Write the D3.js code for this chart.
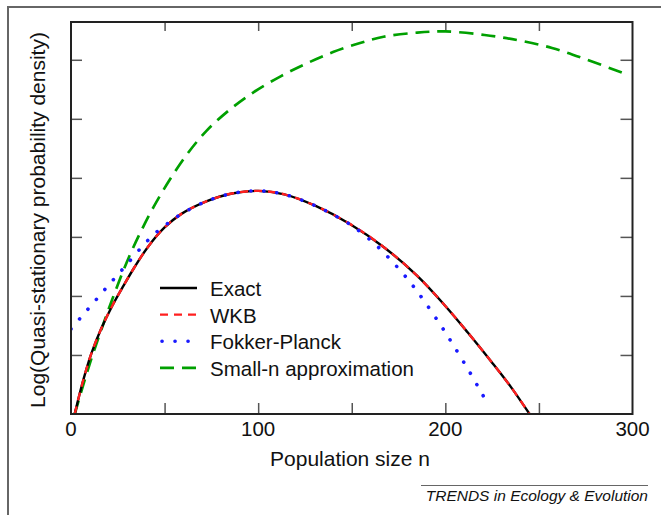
<!DOCTYPE html>
<html>
<head>
<meta charset="utf-8">
<script src="https://cdn.jsdelivr.net/npm/d3@7"></script>
<style>
  body { margin: 0; background: #fff; }
  text { font-family: "Liberation Sans", Arial, Helvetica, sans-serif; }
</style>
</head>
<body>
<script>
// Values (y in arbitrary log units, one tick = 1)
var exactN = [2, 5, 8, 11, 16, 22, 28, 34, 41, 50, 59, 72, 86, 100, 114, 131, 149, 167, 185, 200, 212, 224.5, 235, 245];
var exactY = [0, 0.39, 0.735, 1.035, 1.435, 1.83, 2.17, 2.49, 2.826, 3.16, 3.39, 3.598, 3.735, 3.78, 3.72, 3.52, 3.22, 2.83, 2.34, 1.83, 1.38, 0.89, 0.46, 0];

var fpN = [0, 5, 10, 15, 20, 25, 30, 37, 42, 47.5, 53.5, 59, 72, 86, 100, 114, 131, 145, 151, 162, 172, 181, 189, 198, 205, 213, 219.5, 223];
var fpY = [1.44, 1.625, 1.81, 1.995, 2.18, 2.36, 2.54, 2.8, 2.97, 3.13, 3.27, 3.39, 3.598, 3.735, 3.78, 3.72, 3.52, 3.29, 3.17, 2.89, 2.57, 2.24, 1.9, 1.48, 1.13, 0.71, 0.35, 0.15];

var smallN = [2, 10, 18, 25, 31, 37, 44, 53, 62, 72.5, 85, 97.5, 112, 126, 140, 154, 167, 185, 200, 221, 239, 257, 275, 297];
var smallY = [0, 0.85, 1.59, 2.19, 2.66, 3.07, 3.5, 3.98, 4.4, 4.8, 5.16, 5.45, 5.72, 5.94, 6.13, 6.28, 6.39, 6.46, 6.48, 6.42, 6.33, 6.2, 6.01, 5.75];

var xTicks = [0, 100, 200, 300];
var xMinor = [50, 100, 150, 200, 250];
var yTicks = [1, 2, 3, 4, 5, 6];

var legendNames = ["Exact", "WKB", "Fokker-Planck", "Small-n approximation"];

var svgWidth = 661;
var svgHeight = 515;
var margin = { top: 22, right: 28.5, bottom: 101, left: 71 };
var width = svgWidth - margin.left - margin.right;
var height = svgHeight - margin.top - margin.bottom;

var svg = d3.select("body")
  .append("svg")
  .attr("width", svgWidth)
  .attr("height", svgHeight);

svg.append("rect").attr("width", svgWidth).attr("height", svgHeight).attr("fill", "#fff");

// outer frame (top and left only)
svg.append("path")
  .attr("d", "M8,515 L8,7 L661,7")
  .attr("fill", "none")
  .attr("stroke", "#666")
  .attr("stroke-width", 2);

var chart = svg.append("g")
  .attr("transform", "translate(" + margin.left + "," + margin.top + ")");

var x = d3.scaleLinear().domain([0, 300]).range([0, width]);
var y = d3.scaleLinear().domain([0, 6.64]).range([height, 0]);

chart.append("clipPath").attr("id", "clip")
  .append("rect").attr("width", width).attr("height", height);

// ticks, all pointing inward
function tickStyle(g) {
  g.select(".domain").remove();
  g.selectAll(".tick line").attr("stroke", "#555").attr("stroke-width", 1.5);
  g.selectAll(".tick text").remove();
}
chart.append("g").attr("transform", "translate(0," + height + ")")
  .call(d3.axisBottom(x).tickValues(xMinor).tickSizeInner(-11).tickSizeOuter(0)).call(tickStyle);
chart.append("g")
  .call(d3.axisTop(x).tickValues(xMinor).tickSizeInner(-9).tickSizeOuter(0)).call(tickStyle);
chart.append("g")
  .call(d3.axisLeft(y).tickValues(yTicks).tickSizeInner(-11).tickSizeOuter(0)).call(tickStyle);
chart.append("g").attr("transform", "translate(" + width + ",0)")
  .call(d3.axisRight(y).tickValues(yTicks).tickSizeInner(-12).tickSizeOuter(0)).call(tickStyle);

// x tick labels
chart.append("g")
  .selectAll("text")
  .data(xTicks)
  .enter().append("text")
  .attr("x", function (d) { return x(d); })
  .attr("y", height + 22)
  .attr("text-anchor", "middle")
  .style("font-size", "20.5px")
  .attr("fill", "#111")
  .text(function (d) { return d; });

// curves
var line = d3.line()
  .x(function (d) { return x(d[0]); })
  .y(function (d) { return y(d[1]); })
  .curve(d3.curveCatmullRom.alpha(0.5));

function pairs(ns, ys) { return ns.map(function (n, i) { return [n, ys[i]]; }); }

var curves = chart.append("g").attr("clip-path", "url(#clip)");

curves.append("path")
  .attr("d", line(pairs(smallN, smallY)))
  .attr("fill", "none").attr("stroke", "#00a000").attr("stroke-width", 2.7)
  .attr("stroke-dasharray", "14,8");

curves.append("path")
  .attr("d", line(pairs(exactN, exactY)))
  .attr("fill", "none").attr("stroke", "#000").attr("stroke-width", 2.4);

curves.append("path")
  .attr("d", line(pairs(exactN, exactY)))
  .attr("fill", "none").attr("stroke", "#ff1f1f").attr("stroke-width", 2.4)
  .attr("stroke-dasharray", "8,6");

curves.append("path")
  .attr("d", line(pairs(fpN, fpY)))
  .attr("fill", "none").attr("stroke", "#1a1aff").attr("stroke-width", 3.6)
  .attr("stroke-linecap", "round")
  .attr("stroke-dasharray", "0.1,12.9");

// plot border
chart.append("rect")
  .attr("width", width).attr("height", height)
  .attr("fill", "none").attr("stroke", "#222").attr("stroke-width", 2);

// legend
var legendStyles = [
  { stroke: "#000", dash: null, w: 2.4, cap: "butt" },
  { stroke: "#ff1f1f", dash: "8,6", w: 2.4, cap: "butt" },
  { stroke: "#1a1aff", dash: "0.1,12.9", w: 3.6, cap: "round" },
  { stroke: "#00a000", dash: "14,8", w: 2.7, cap: "butt" }
];
var legend = svg.append("g");
legendNames.forEach(function (name, i) {
  var ly = 288 + i * 26.6;
  var s = legendStyles[i];
  legend.append("line")
    .attr("x1", i === 2 ? 162 : 160).attr("x2", 197).attr("y1", ly).attr("y2", ly)
    .attr("stroke", s.stroke).attr("stroke-width", s.w)
    .attr("stroke-linecap", s.cap)
    .attr("stroke-dasharray", s.dash);
  legend.append("text")
    .attr("x", 210).attr("y", ly + 8)
    .style("font-size", "20.5px")
    .attr("fill", "#111")
    .text(name);
});

// axis labels
svg.append("text")
  .attr("x", 350).attr("y", 466)
  .attr("text-anchor", "middle")
  .style("font-size", "21px")
  .attr("fill", "#111")
  .text("Population size n");

svg.append("text")
  .attr("transform", "translate(45,220) rotate(-90)")
  .attr("text-anchor", "middle")
  .style("font-size", "21px")
  .attr("fill", "#111")
  .text("Log(Quasi-stationary probability density)");

// journal credit
svg.append("line")
  .attr("x1", 421).attr("x2", 648).attr("y1", 485.5).attr("y2", 485.5)
  .attr("stroke", "#666").attr("stroke-width", 1);
svg.append("text")
  .attr("x", 648).attr("y", 501)
  .attr("text-anchor", "end")
  .style("font-size", "15.5px")
  .style("font-style", "italic")
  .attr("fill", "#111")
  .text("TRENDS in Ecology & Evolution");
</script>
</body>
</html>
